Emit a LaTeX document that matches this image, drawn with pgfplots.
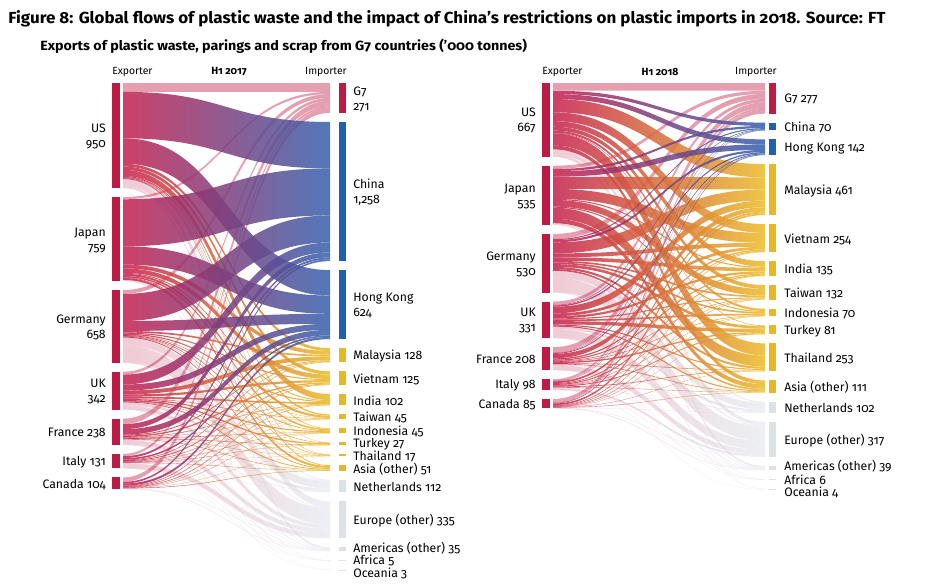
\documentclass[border=0pt]{standalone}
\usepackage{pgfplots}
\pgfplotsset{compat=1.18}
\usepackage{pgfplotstable}
\usepackage{graphicx}
\usepackage{fontspec}
\setmainfont{Fira Sans}[Numbers=OldStyle]

\definecolor{crim}{HTML}{BE1B44}
\definecolor{blu}{HTML}{2160AC}
\definecolor{yel}{HTML}{E6B822}
\definecolor{gry}{HTML}{D9E1E9}
\definecolor{fsrc}{HTML}{C52150}
\definecolor{fblu}{HTML}{3461AE}
\definecolor{fyel}{HTML}{EBBC28}

\tikzset{
  barG/.style={fill=crim}, barB/.style={fill=blu}, barY/.style={fill=yel},
  barE/.style={fill=gry}, barX/.style={fill=crim},
  flowG/.style={fill=crim, fill opacity=0.42},
  flowB/.style={left color=fsrc, right color=fblu, fill opacity=0.86},
  flowY/.style={left color=fsrc, right color=fyel, fill opacity=0.86},
  flowE/.style={left color=crim!45!white, right color=gry, fill opacity=0.5},
  lab/.style={font=\fontsize{9.2}{11.3}\selectfont, inner sep=0pt},
}

% ---------- node tables ----------
\pgfplotstableread{
name val lab two cat dy
US 950 950 1 X 0
Japan 759 759 1 X 0
Germany 658 658 1 X 0
UK 342 342 1 X 0
France 238 238 0 X 0
Italy 131 131 0 X 0
Canada 104 104 0 X 0
}\expA
\pgfplotstableread{
name val lab two cat dy
G7 271 271 1 G 0
China 1258 1,258 1 B 0
{Hong Kong} 624 624 1 B 0
Malaysia 128 128 0 Y 0
Vietnam 125 125 0 Y 0
India 102 102 0 Y 0
Taiwan 45 45 0 Y 0
Indonesia 45 45 0 Y 0
Turkey 27 27 0 Y -0.5
Thailand 17 17 0 Y 0
{Asia (other)} 51 51 0 Y 0.5
Netherlands 112 112 0 E 0
{Europe (other)} 335 335 0 E 0
{Americas (other)} 35 35 0 E -2.5
Africa 5 5 0 E -0.5
Oceania 3 3 0 E 2.5
}\impA
\pgfplotstableread{
name val lab two cat dy
US 667 667 1 X 0
Japan 535 535 1 X 0
Germany 530 530 1 X 0
UK 331 331 1 X 0
France 208 208 0 X 0
Italy 98 98 0 X 0
Canada 85 85 0 X 0
}\expB
\pgfplotstableread{
name val lab two cat dy
G7 277 277 0 G 0
China 70 70 0 B 0
{Hong Kong} 142 142 0 B 0
Malaysia 461 461 0 Y 0
Vietnam 254 254 0 Y 0
India 135 135 0 Y 0
Taiwan 132 132 0 Y 0
Indonesia 70 70 0 Y 0
Turkey 81 81 0 Y 0
Thailand 253 253 0 Y 0
{Asia (other)} 111 111 0 Y 0
Netherlands 102 102 0 E 0
{Europe (other)} 317 317 0 E 0
{Americas (other)} 39 39 0 E -2.5
Africa 6 6 0 E -0.5
Oceania 4 4 0 E 2.5
}\impB

% ---------- flows: rows = exporters, columns = importers ----------
\pgfplotstableread{
c0 c1 c2 c3 c4 c5 c6 c7 c8 c9 c10 c11 c12 c13 c14 c15
80 420 230 25 30 55 11 5 2 3 7 8 58 16 0 0
20 425 165 35 40 8 20 13 0 5 18 2 5 3 0 0
35 245 90 15 10 10 3 7 5 2 8 70 150 5 2 1
25 90 55 35 20 15 5 10 12 3 7 25 35 3 1 1
50 45 50 8 12 5 2 5 5 2 4 5 40 3 1 1
20 18 14 5 8 4 2 3 3 1 3 2 45 2 1 0
40 15 20 5 5 5 2 2 0 1 4 0 2 3 0 0
}\mxA
\pgfplotstableread{
c0 c1 c2 c3 c4 c5 c6 c7 c8 c9 c10 c11 c12 c13 c14 c15
70 30 45 120 80 50 35 20 5 110 35 10 35 18 2 2
29 20 50 110 90 10 60 10 0 100 40 2 8 5 0 1
46 10 20 100 35 32 15 15 25 20 15 60 130 5 2 0
30 5 12 60 25 20 10 15 30 10 10 20 80 3 1 0
50 3 8 40 12 10 5 5 12 5 5 5 45 2 1 0
17 1 2 16 7 9 3 3 8 6 3 3 17 2 0 1
35 1 5 15 5 4 4 2 1 2 3 2 2 4 0 0
}\mxB

\makeatletter
\gdef\bars{}\gdef\flE{}\gdef\flG{}\gdef\flY{}\gdef\flB{}
\newcommand\SC{0.1106}
\newcommand\GAP{9}
\newcommand\TOP{83}

\newcommand\tops[3]{%
  \xdef\cum{\TOP}%
  \foreach \kk in {0,...,#3}{%
    \pgfplotstablegetelem{\kk}{val}\of#1%
    \pgfmathsetmacro\hh{\pgfplotsretval*\SC}%
    \expandafter\xdef\csname #2t\kk\endcsname{\cum}%
    \expandafter\xdef\csname #2o\kk\endcsname{\cum}%
    \expandafter\xdef\csname #2h\kk\endcsname{\hh}%
    \pgfmathsetmacro\nc{\cum+\hh+\GAP}%
    \xdef\cum{\nc}%
  }}

\newcommand\nodebars[8]{%
  \foreach \kk in {0,...,#3}{%
    \pgfplotstablegetelem{\kk}{name}\of#1\let\nm\pgfplotsretval
    \pgfplotstablegetelem{\kk}{lab}\of#1\let\lb\pgfplotsretval
    \pgfplotstablegetelem{\kk}{two}\of#1\let\tw\pgfplotsretval
    \pgfplotstablegetelem{\kk}{cat}\of#1\let\ct\pgfplotsretval
    \pgfplotstablegetelem{\kk}{dy}\of#1\let\dy\pgfplotsretval
    \edef\ya{\csname #2t\kk\endcsname}%
    \pgfmathsetmacro\yb{\ya+\csname #2h\kk\endcsname}%
    \pgfmathsetmacro\yc{\ya+0.5*\csname #2h\kk\endcsname+1+\dy}%
    \ifnum\tw=1 \def\txt{\nm\noexpand\\\lb}\else\def\txt{\nm\space\lb}\fi
    \edef\tmp{\noexpand\g@addto@macro\noexpand\bars{%
      \noexpand\fill[bar\ct] (axis cs:#4,\ya) rectangle (axis cs:#5,\yb);%
      \noexpand\node[lab,anchor=#7,align=#8] at (axis cs:#6,\yc) {\txt};}}%
    \tmp
  }}

\newcommand\flows[8]{%
  \pgfmathsetmacro\xm{(#6+#7)/2}%
  \foreach \ii in {0,...,#4}{%
    \foreach \jj in {0,...,#5}{%
      \pgfplotstablegetelem{\ii}{c\jj}\of#1\let\vv\pgfplotsretval
      \ifdim\vv pt>0pt
        \pgfplotstablegetelem{\jj}{cat}\of#8\let\ct\pgfplotsretval
        \pgfmathsetmacro\hh{\vv*\SC}%
        \edef\ya{\csname #2o\ii\endcsname}%
        \pgfmathsetmacro\yb{\ya+\hh}%
        \edef\yc{\csname #3o\jj\endcsname}%
        \pgfmathsetmacro\yd{\yc+\hh}%
        \expandafter\xdef\csname #2o\ii\endcsname{\yb}%
        \expandafter\xdef\csname #3o\jj\endcsname{\yd}%
        \edef\tmp{\noexpand\g@addto@macro\expandafter\noexpand\csname fl\ct\endcsname{%
          \noexpand\path[flow\ct] (axis cs:#6,\ya) .. controls (axis cs:\xm,\ya) and (axis cs:\xm,\yc) .. (axis cs:#7,\yc) -- (axis cs:#7,\yd) .. controls (axis cs:\xm,\yd) and (axis cs:\xm,\yb) .. (axis cs:#6,\yb) -- cycle;}}%
        \tmp
      \fi
    }}}
\makeatother

\tops{\expA}{eA}{6}
\tops{\impA}{iA}{15}
\tops{\expB}{eB}{6}
\tops{\impB}{iB}{15}
\nodebars{\expA}{eA}{6}{112}{120}{106}{east}{right}
\nodebars{\impA}{iA}{15}{339}{346}{353}{west}{left}
\nodebars{\expB}{eB}{6}{542}{550}{536}{east}{right}
\nodebars{\impB}{iB}{15}{769}{776}{784}{west}{left}
\flows{\mxA}{eA}{iA}{6}{15}{123}{330}{\impA}
\flows{\mxB}{eB}{iB}{6}{15}{553}{765}{\impB}

\begin{document}
\begin{tikzpicture}
\begin{axis}[
  scale only axis, width=711.75pt, height=440.25pt,
  xmin=0, xmax=949, ymin=0, ymax=587, y dir=reverse,
  hide axis, clip=false]
\flE
\flG
\flY
\flB
\bars
\node[anchor=base west, inner sep=0pt, font=\bfseries\fontsize{12}{14}\selectfont] at (axis cs:8,23)
  {\resizebox{658pt}{\height}{Figure 8: Global flows of plastic waste and the impact of China’s restrictions on plastic imports in 2018. Source: FT}};
\node[anchor=base west, inner sep=0pt, font=\bfseries\fontsize{10}{12}\selectfont] at (axis cs:40,50)
  {\resizebox{365pt}{\height}{Exports of plastic waste, parings and scrap from G7 countries (’000 tonnes)}};
\node[anchor=west, inner sep=0pt, font=\fontsize{7.8}{9}\selectfont] at (axis cs:112,72) {Exporter};
\node[anchor=east, inner sep=0pt, font=\fontsize{7.8}{9}\selectfont] at (axis cs:347,72) {Importer};
\node[inner sep=0pt, font=\bfseries\fontsize{7.8}{9}\selectfont] at (axis cs:229,72) {H1 2017};
\node[anchor=west, inner sep=0pt, font=\fontsize{7.8}{9}\selectfont] at (axis cs:542,72) {Exporter};
\node[anchor=east, inner sep=0pt, font=\fontsize{7.8}{9}\selectfont] at (axis cs:777,72) {Importer};
\node[inner sep=0pt, font=\bfseries\fontsize{7.8}{9}\selectfont] at (axis cs:660,72) {H1 2018};
\end{axis}
\pgfresetboundingbox
\path (current axis.south west) rectangle (current axis.north east);
\end{tikzpicture}
\end{document}
